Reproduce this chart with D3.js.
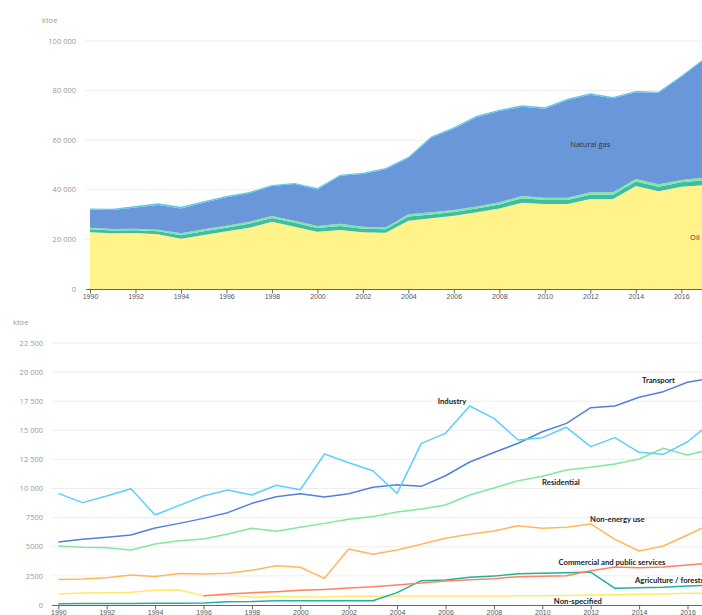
<!DOCTYPE html>
<html>
<head>
<meta charset="utf-8">
<script src="https://cdn.jsdelivr.net/npm/d3@7"></script>
<style>
  html, body { margin: 0; padding: 0; overflow: hidden; background: #fff; }
  svg { display: block; font-family: "Open Sans", sans-serif; }
  .tick-y { fill: #999; font-size: 7.5px; }
  .tick-x { fill: #555; font-size: 7px; }
  .unit { fill: #999; font-size: 7.5px; }
  .area-label { fill: #333; font-size: 7.5px; }
  .line-label { fill: #222; font-size: 7.7px; font-weight: 700; font-family: Lato, sans-serif; }
</style>
</head>
<body>
<div id="chart"></div>
<script>
// years shown on both panels
var years = d3.range(1990, 2018);

// top panel: supply by source, ktoe (stacked, bottom to top)
var oil = [22860, 22450, 22580, 22040, 20300, 21770, 23250, 24700, 27150, 25130,
  23100, 23800, 22860, 22700, 27550, 28500, 29570, 30900, 32500, 34800,
  34270, 34270, 36300, 36300, 41500, 39400, 41250, 41900];
var biofuels = [1200, 1150, 1120, 1200, 1400, 1500, 1450, 1600, 1500, 1580,
  1480, 1650, 1480, 1380, 1650, 1570, 1500, 1550, 1600, 1750,
  1650, 1650, 1750, 1750, 1850, 1800, 1750, 1950];
var hydro = [640, 600, 600, 660, 750, 780, 800, 850, 790, 840,
  790, 910, 790, 740, 900, 850, 790, 850, 850, 950,
  880, 880, 950, 950, 1000, 1000, 950, 1050];
var natgas = [7400, 7650, 8600, 9970, 10050, 10750, 11470, 11430, 12090, 14790,
  14770, 19270, 21270, 23450, 22750, 30030, 32750, 36000, 36820, 36000,
  35900, 39400, 39350, 37900, 34950, 36970, 41650, 47700];
var coal = [400, 550, 550, 680, 700, 560, 530, 520, 410, 400,
  540, 480, 500, 500, 500, 500, 600, 550, 530, 570,
  550, 500, 550, 500, 540, 400, 400, 400];

var sources = ["Oil", "Biofuels and waste", "Hydro", "Natural gas", "Coal"];
var sourceColors = ["#fff38a", "#3dbca6", "#7ee8a2", "#6a97da", "#5ac9ea"];

// bottom panel: consumption by sector, ktoe
var industry = [9590, 8790, 9360, 9990, 7730, 8560, 9360, 9880, 9450, 10280,
  9900, 12970, 12220, 11530, 9590, 13880, 14740, 17090, 16030, 14170,
  14370, 15260, 13600, 14370, 13110, 12940, 14020, 15700];
var transport = [5410, 5640, 5810, 6010, 6610, 7010, 7440, 7930, 8730, 9300,
  9560, 9270, 9560, 10110, 10330, 10190, 11100, 12280, 13100, 13890,
  14880, 15600, 16950, 17090, 17840, 18320, 19130, 19500];
var residential = [5070, 4950, 4920, 4720, 5240, 5520, 5670, 6100, 6590, 6330,
  6670, 7010, 7360, 7590, 7990, 8240, 8590, 9450, 10050, 10680,
  11050, 11590, 11820, 12110, 12540, 13460, 12880, 13400];
var nonEnergy = [2200, 2230, 2350, 2580, 2440, 2700, 2660, 2720, 2980, 3380,
  3240, 2290, 4810, 4350, 4720, 5210, 5730, 6070, 6360, 6810,
  6590, 6670, 6960, 5640, 4640, 5070, 6010, 7000];
var commercial = [null, null, null, null, null, null, 800, 950, 1060, 1140,
  1260, 1340, 1460, 1570, 1720, 1890, 2060, 2170, 2260, 2430,
  2460, 2520, 2950, 3260, 3200, 3260, 3440, 3620];
var agriculture = [110, 120, 120, 130, 140, 150, 170, 280, 290, 370,
  370, 370, 370, 370, 1060, 2090, 2150, 2380, 2480, 2690,
  2720, 2780, 2830, 1430, 1490, 1520, 1630, 1720];
var nonSpecified = [940, 1030, 1060, 1090, 1260, 1290, 800, 860, 660, 750,
  690, 690, 750, 750, 770, 770, 770, 770, 770, 790,
  800, 820, 860, 880, 920, 950, 1000, 1020];

var sectors = [
  { name: "Non-specified", values: nonSpecified, color: "#ffe96a" },
  { name: "Agriculture / forestry", values: agriculture, color: "#22b29c" },
  { name: "Commercial and public services", values: commercial, color: "#ff8262" },
  { name: "Non-energy use", values: nonEnergy, color: "#ffb75e" },
  { name: "Residential", values: residential, color: "#7fea9c" },
  { name: "Transport", values: transport, color: "#5282d8" },
  { name: "Industry", values: industry, color: "#5ccffa" }
];

// label spots: year / value where each label sits
var sectorLabels = [
  { name: "Industry", year: 2006.27, value: 17460, anchor: "middle" },
  { name: "Transport", year: 2014.8, value: 19260, anchor: "middle" },
  { name: "Residential", year: 2010.77, value: 10500, anchor: "middle" },
  { name: "Non-energy use", year: 2013.1, value: 7360, anchor: "middle" },
  { name: "Commercial and public services", year: 2012.88, value: 3670, anchor: "middle" },
  { name: "Agriculture / forestry", year: 2013.83, value: 2090, anchor: "start" },
  { name: "Non-specified", year: 2011.47, value: 340, anchor: "middle" }
];

var yTicksTop = [0, 20000, 40000, 60000, 80000, 100000];
var yTicksBottom = [0, 2500, 5000, 7500, 10000, 12500, 15000, 17500, 20000, 22500];
var xTicks = d3.range(1990, 2018, 2);

var width = 760;
var height = 615;

function fmt(v) {
  if (v < 10000) return String(v);
  return d3.format(",")(v).replace(/,/g, " ");
}

var svg = d3.select("#chart").append("svg")
  .attr("width", width)
  .attr("height", height);

// ---------- top panel ----------
var xTop = d3.scaleLinear().domain([1990, 2017]).range([90, 704]);
var yTop = d3.scaleLinear().domain([0, 100000]).range([289, 41]);

var topPanel = svg.append("g");

topPanel.selectAll(".grid-top")
  .data(yTicksTop.slice(1))
  .enter().append("line")
  .attr("x1", 85).attr("x2", width)
  .attr("y1", d => yTop(d)).attr("y2", d => yTop(d))
  .attr("stroke", "#eeeeee");

topPanel.selectAll(".ytick-top")
  .data(yTicksTop)
  .enter().append("text")
  .attr("class", "tick-y")
  .attr("x", 76)
  .attr("y", d => yTop(d))
  .attr("dy", "0.35em")
  .attr("text-anchor", "end")
  .text(fmt);

topPanel.append("text").attr("class", "unit").attr("x", 42).attr("y", 23).text("ktoe");

var table = years.map(function(y, i) {
  return { year: y, "Oil": oil[i], "Biofuels and waste": biofuels[i], "Hydro": hydro[i],
    "Natural gas": natgas[i], "Coal": coal[i] };
});
var stack = d3.stack().keys(sources)(table);

var area = d3.area()
  .x(d => xTop(d.data.year))
  .y0(d => yTop(d[0]))
  .y1(d => yTop(d[1]));

topPanel.selectAll(".layer")
  .data(stack)
  .enter().append("path")
  .attr("d", area)
  .attr("fill", (d, i) => sourceColors[i]);

// axis
topPanel.append("line")
  .attr("x1", 86).attr("x2", width)
  .attr("y1", 289.5).attr("y2", 289.5)
  .attr("stroke", "#666");

var xAxisTop = d3.axisBottom(xTop).tickValues(xTicks).tickSize(4).tickFormat(d3.format("d"));
topPanel.append("g")
  .attr("transform", "translate(0,289.5)")
  .call(xAxisTop)
  .call(g => g.select(".domain").remove())
  .call(g => g.selectAll("line").attr("stroke", "#666"))
  .call(g => g.selectAll("text").attr("class", "tick-x").attr("fill", null)
    .attr("font-family", null).attr("font-size", null).attr("y", 5));

topPanel.append("text").attr("class", "area-label")
  .attr("x", xTop(2012)).attr("y", yTop(58500)).attr("dy", "0.35em")
  .attr("text-anchor", "middle").text("Natural gas");
topPanel.append("text").attr("class", "area-label")
  .attr("x", xTop(2016.6)).attr("y", yTop(21000)).attr("dy", "0.35em")
  .attr("text-anchor", "middle").text("Oil");

// ---------- bottom panel ----------
var xBot = d3.scaleLinear().domain([1990, 2017]).range([58.3, 711.7]);
var yBot = d3.scaleLinear().domain([0, 22500]).range([605, 343]);

var botPanel = svg.append("g");

botPanel.selectAll(".grid-bot")
  .data(yTicksBottom.slice(1))
  .enter().append("line")
  .attr("x1", 52).attr("x2", width)
  .attr("y1", d => yBot(d)).attr("y2", d => yBot(d))
  .attr("stroke", "#eeeeee");

botPanel.selectAll(".ytick-bot")
  .data(yTicksBottom)
  .enter().append("text")
  .attr("class", "tick-y")
  .attr("x", 43)
  .attr("y", d => yBot(d))
  .attr("dy", "0.35em")
  .attr("text-anchor", "end")
  .text(fmt);

botPanel.append("text").attr("class", "unit").attr("x", 13).attr("y", 325).text("ktoe");

var line = d3.line()
  .defined(d => d != null)
  .x((d, i) => xBot(years[i]))
  .y(d => yBot(d));

botPanel.selectAll(".sector")
  .data(sectors)
  .enter().append("path")
  .attr("d", d => line(d.values))
  .attr("fill", "none")
  .attr("stroke", d => d.color)
  .attr("stroke-width", 1.5)
  .attr("stroke-linejoin", "round");

botPanel.append("line")
  .attr("x1", 52).attr("x2", width)
  .attr("y1", 605.5).attr("y2", 605.5)
  .attr("stroke", "#666");

var xAxisBot = d3.axisBottom(xBot).tickValues(xTicks).tickSize(4).tickFormat(d3.format("d"));
botPanel.append("g")
  .attr("transform", "translate(0,605.5)")
  .call(xAxisBot)
  .call(g => g.select(".domain").remove())
  .call(g => g.selectAll("line").attr("stroke", "#666"))
  .call(g => g.selectAll("text").attr("class", "tick-x").attr("fill", null)
    .attr("font-family", null).attr("font-size", null).attr("y", 5));

botPanel.selectAll(".line-label")
  .data(sectorLabels)
  .enter().append("text")
  .attr("class", "line-label")
  .attr("x", d => xBot(d.year))
  .attr("y", d => yBot(d.value))
  .attr("dy", "0.35em")
  .attr("text-anchor", d => d.anchor)
  .text(d => d.name);
</script>
</body>
</html>
